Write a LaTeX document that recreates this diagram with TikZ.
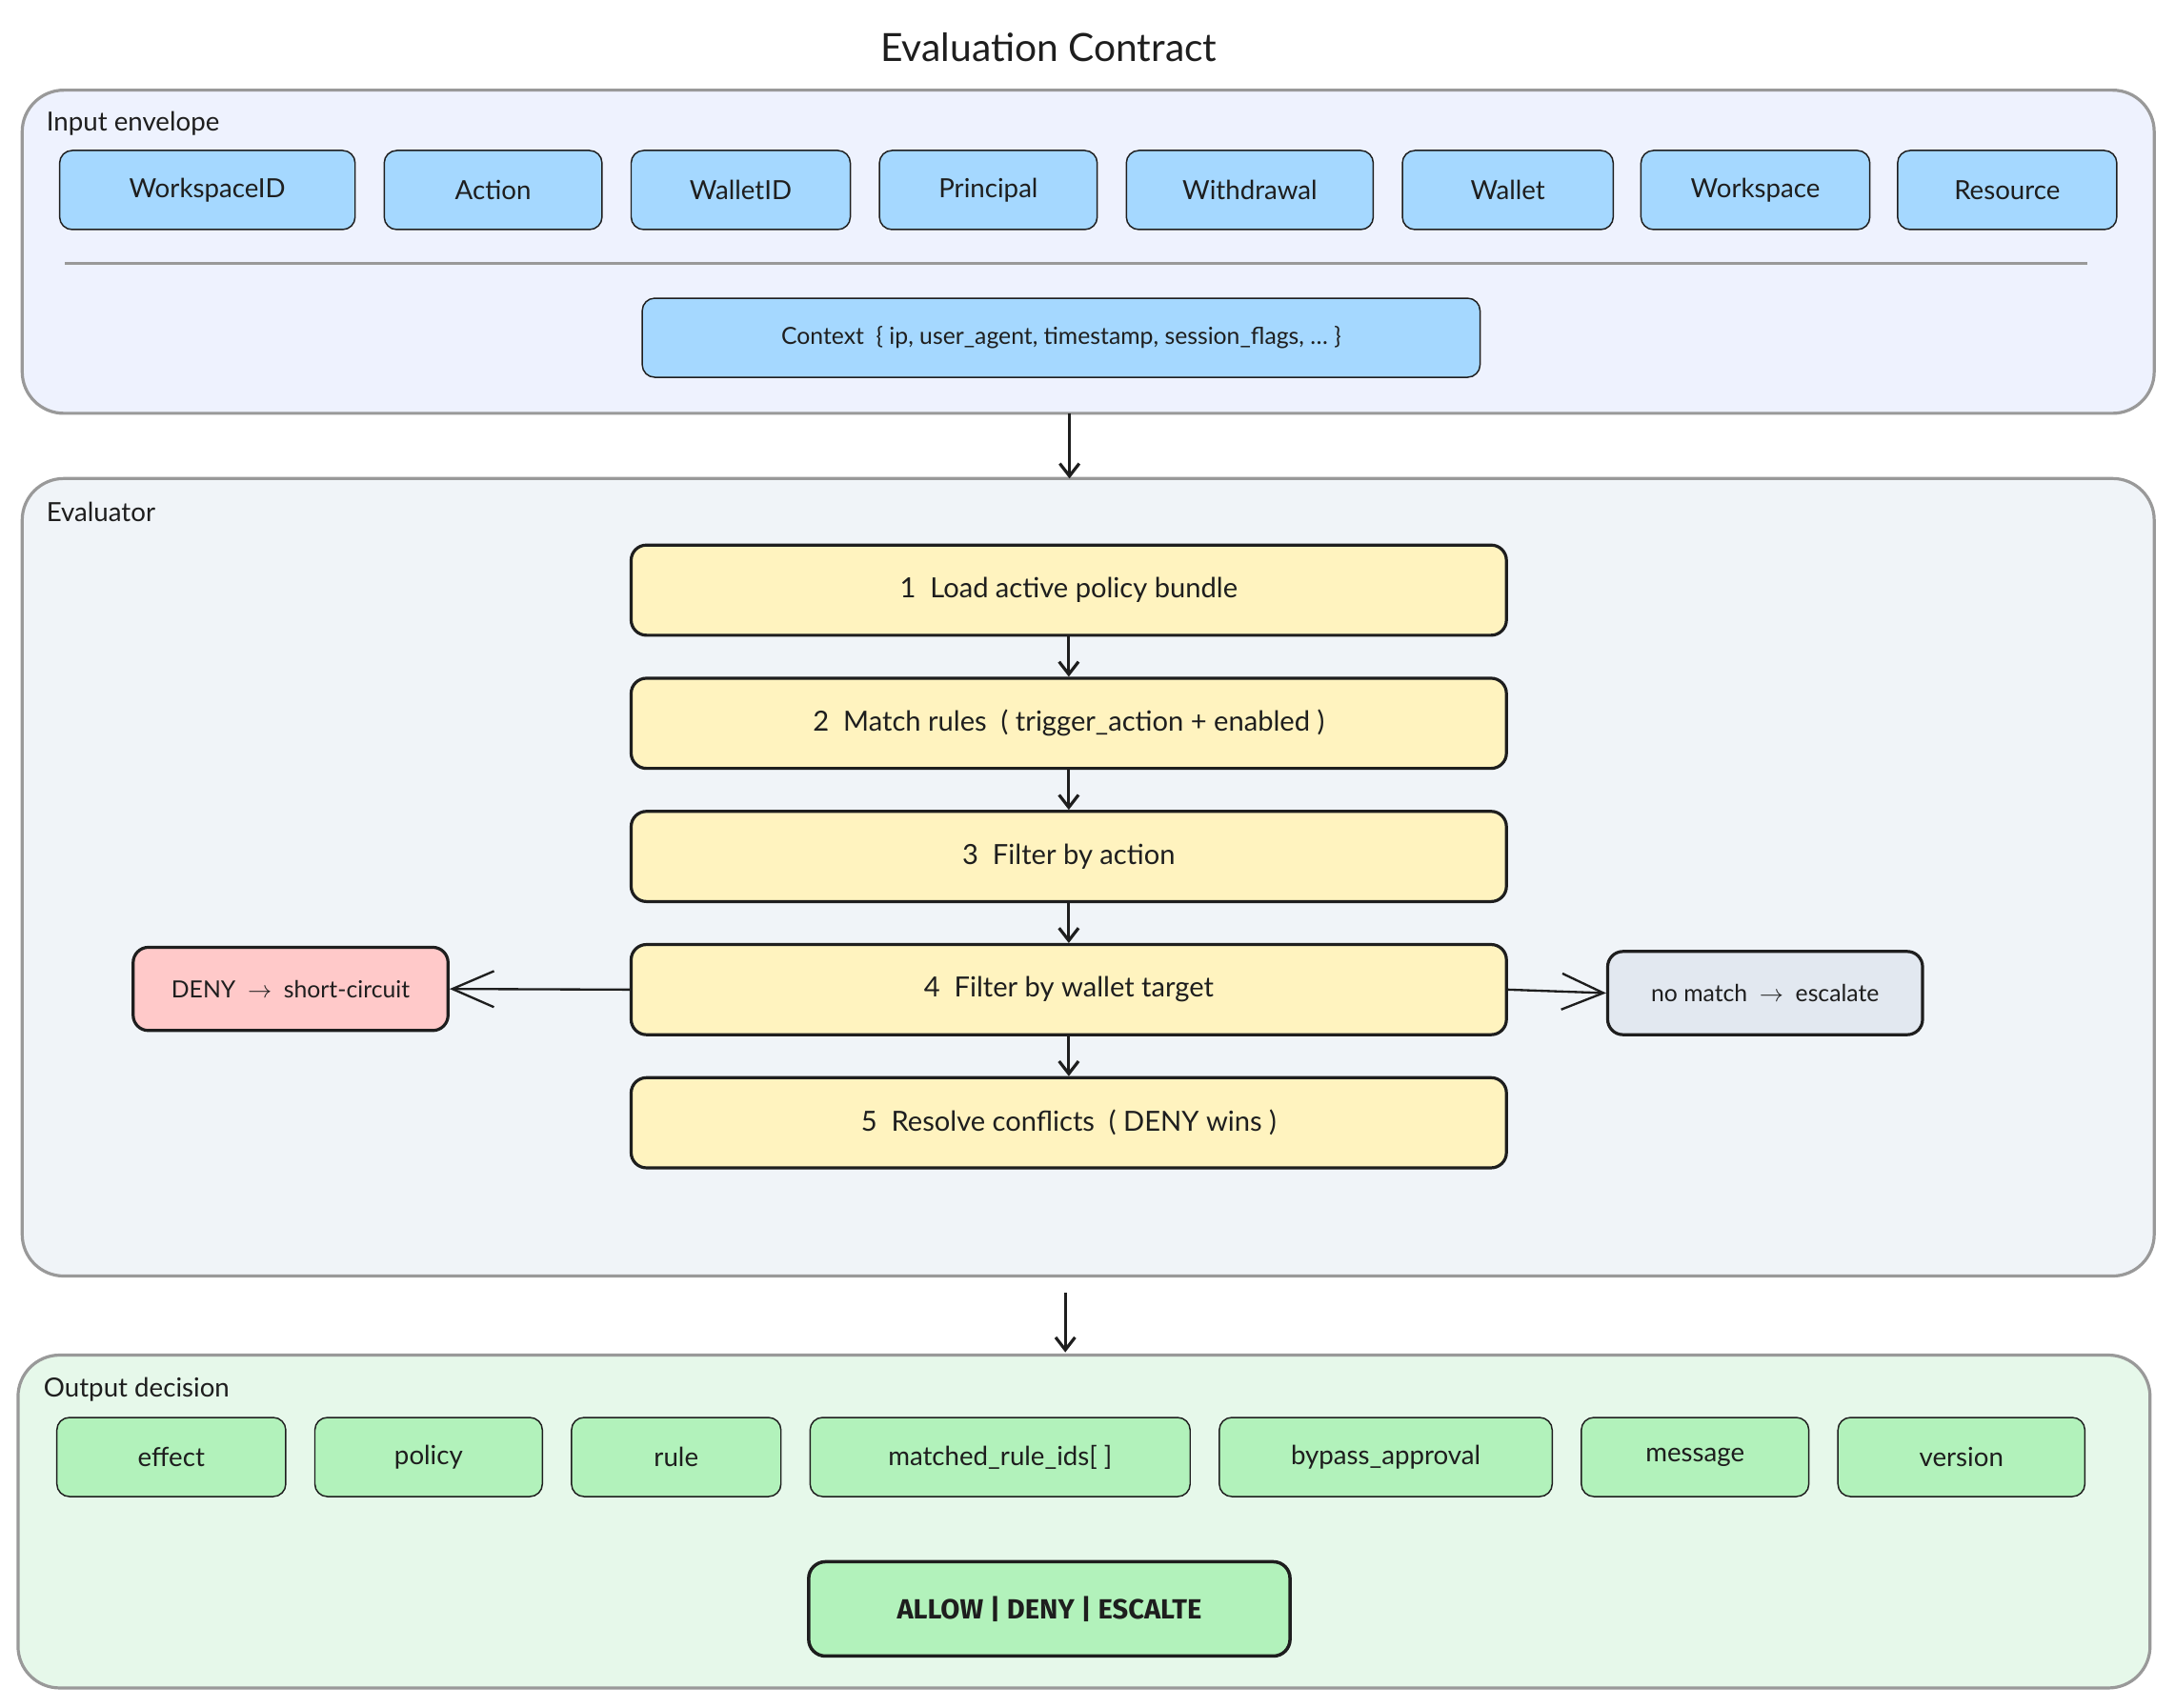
\documentclass[tikz,border=0pt]{standalone}
\usepackage{fontspec}
\setmainfont{Lato}
\newfontfamily\bigf{Fira Sans}
\usetikzlibrary{arrows.meta}
\definecolor{inbg}{HTML}{EEF2FE}
\definecolor{evbg}{HTML}{F0F4F8}
\definecolor{outbg}{HTML}{E6F8EA}
\definecolor{blu}{HTML}{A5D8FF}
\definecolor{yel}{HTML}{FFF3BF}
\definecolor{redf}{HTML}{FFC9C9}
\definecolor{gry}{HTML}{E2E8F0}
\definecolor{grn}{HTML}{B2F2BB}
\definecolor{frame}{HTML}{999999}
\definecolor{ink}{HTML}{1E1E1E}
\begin{document}
\begin{tikzpicture}[x=1pt,y=-1pt,
 group/.style={draw=frame,line width=2.2pt,rounded corners=30pt},
 glabel/.style={anchor=west,font=\fontsize{19}{22}\selectfont,text=ink},
 chip/.style={draw=ink,line width=1pt,rounded corners=9pt,font=\fontsize{19}{22}\selectfont,text=ink},
 stepbox/.style={draw=ink,line width=2.2pt,fill=yel,rounded corners=11pt,minimum width=631,minimum height=65,font=\fontsize{20}{24}\selectfont,text=ink},
 side/.style={draw=ink,line width=2.2pt,rounded corners=11pt,minimum width=227,minimum height=60,font=\fontsize{17}{20}\selectfont,text=ink},
 varr/.style={draw=ink,line width=2.2pt,-{Straight Barb[length=9pt,width=14pt]}},
 harr/.style={draw=ink,line width=1.6pt,-{Straight Barb[length=30pt,width=26pt]}}]
\useasboundingbox (0,0) rectangle (1568,1231);
\fill[white] (0,0) rectangle (1568,1231);
\node[font=\fontsize{28}{32}\selectfont,text=ink] (title) at (756,34) {Evaluation Contract};
% input
\draw[group,fill=inbg] (16,65) rectangle (1553,298);
\node[glabel] (inl) at (30,89) {Input envelope};
\newcommand\mk[6]{\node[chip,fill=#6,minimum width={#3-#2},minimum height=57,inner sep=0] (#1) at ({(#2+#3)/2},#4) {#5};}
\mk{i1}{43}{256}{137}{WorkspaceID}{blu}
\mk{i2}{277}{434}{137}{Action}{blu}
\mk{i3}{455}{613}{137}{WalletID}{blu}
\mk{i4}{634}{791}{137}{Principal}{blu}
\mk{i5}{812}{990}{137}{Withdrawal}{blu}
\mk{i6}{1011}{1163}{137}{Wallet}{blu}
\mk{i7}{1183}{1348}{137}{Workspace}{blu}
\mk{i8}{1368}{1526}{137}{Resource}{blu}
\draw[frame,line width=2pt] (47,190) -- (1505,190);
\node[chip,fill=blu,minimum width=604,minimum height=57,inner sep=0,font=\fontsize{17}{20}\selectfont] (ctx) at (765,243.5) {Context~~\{ ip, user\_agent, timestamp, session\_flags, \dots\ \}};
% evaluator
\draw[group,fill=evbg] (16,345) rectangle (1553,920);
\node[glabel] (evl) at (30,369) {Evaluator};
\coordinate (inb) at (771,298);
\coordinate (evt) at (771,345);
\draw[varr] (inb) -- (evt);
\node[stepbox] (s1) at (770.5,425.5) {1~~Load active policy bundle};
\node[stepbox] (s2) at (770.5,521.5) {2~~Match rules~~( trigger\_action + enabled )};
\node[stepbox] (s3) at (770.5,617.5) {3~~Filter by action};
\node[stepbox] (s4) at (770.5,713.5) {4~~Filter by wallet target};
\node[stepbox] (s5) at (770.5,809.5) {5~~Resolve conflicts~~( DENY wins )};
\draw[varr] (s1) -- (s2);
\draw[varr] (s2) -- (s3);
\draw[varr] (s3) -- (s4);
\draw[varr] (s4) -- (s5);
\node[side,fill=redf] (deny) at (209.5,713) {DENY~~$\rightarrow$~~short-circuit};
\node[side,fill=gry] (nom) at (1272.5,716) {no match~~$\rightarrow$~~escalate};
\draw[harr] (s4.west) -- (deny.east);
\draw[harr] (s4.east) -- (nom.west);
% output
\coordinate (oa) at (768,932);
\coordinate (ob) at (768,975);
\draw[varr] (oa) -- (ob);
\draw[group,fill=outbg] (13,977) rectangle (1550,1217);
\node[glabel] (outl) at (28,1002) {Output decision};
\mk{o1}{41}{206}{1050.5}{effect}{grn}
\mk{o2}{227}{391}{1050.5}{policy}{grn}
\mk{o3}{412}{563}{1050.5}{rule}{grn}
\mk{o4}{584}{858}{1050.5}{matched\_rule\_ids[ ]}{grn}
\mk{o5}{879}{1119}{1050.5}{bypass\_approval}{grn}
\mk{o6}{1140}{1304}{1050.5}{message}{grn}
\mk{o7}{1325}{1503}{1050.5}{version}{grn}
\node[draw=ink,line width=2.4pt,fill=grn,rounded corners=12pt,minimum width=347,minimum height=68,font=\bigf\fontsize{20}{24}\selectfont\bfseries,text=ink] (res) at (756.5,1160) {ALLOW | DENY | ESCALTE};
\end{tikzpicture}
\end{document}
